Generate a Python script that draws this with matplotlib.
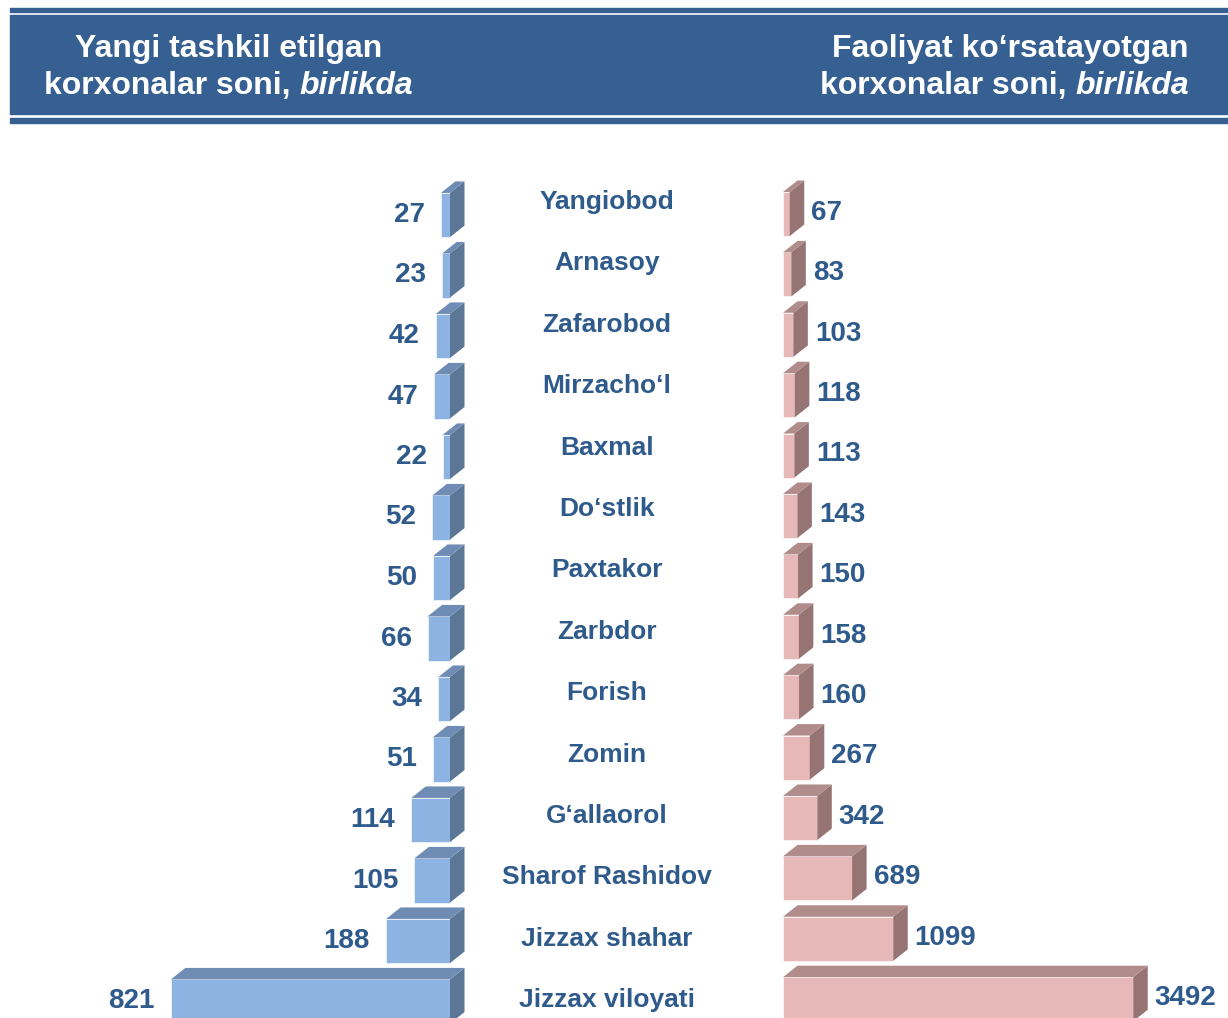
import matplotlib.pyplot as plt
from matplotlib.patches import Polygon, Rectangle

plt.rcParams['font.family'] = ['Liberation Sans', 'DejaVu Sans']

districts = [
    "Yangiobod", "Arnasoy", "Zafarobod", "Mirzacho‘l", "Baxmal", "Do‘stlik",
    "Paxtakor", "Zarbdor", "Forish", "Zomin", "G‘allaorol", "Sharof Rashidov",
    "Jizzax shahar", "Jizzax viloyati",
]
new_firms = [27, 23, 42, 47, 22, 52, 50, 66, 34, 51, 114, 105, 188, 821]
active_firms = [67, 83, 103, 118, 113, 143, 150, 158, 160, 267, 342, 689, 1099, 3492]

TEXT_COLOR = "#2f5a8c"
HEADER_COLOR = "#366092"
W, H = 1228, 1018
BAR_H = 0.73
DEPTH_Y = 0.19


def px_axes(fig, x0, x1):
    """ Full-height axes spanning pixel columns x0..x1 """
    ax = fig.add_axes([x0 / W, 0, (x1 - x0) / W, 1])
    ax.axis("off")
    return ax


def draw_bars(ax, values, depth_x, front, side, top, mirrored):
    for row, v in enumerate(values):
        y_top = row - BAR_H / 2
        y_bot = row + BAR_H / 2
        ax.add_patch(Rectangle((0, y_top), v, BAR_H, facecolor=front,
                               edgecolor="#ffffff", linewidth=0.4, zorder=2))
        if mirrored:
            # depth runs toward the zero line (to the right on screen)
            edge, sign = 0, -1
            top_pts = [(v, y_top), (0, y_top), (-depth_x, y_top - DEPTH_Y),
                       (v - depth_x, y_top - DEPTH_Y)]
        else:
            edge, sign = v, 1
            top_pts = [(0, y_top), (v, y_top), (v + depth_x, y_top - DEPTH_Y),
                       (depth_x, y_top - DEPTH_Y)]
        side_pts = [(edge, y_top), (edge + sign * depth_x, y_top - DEPTH_Y),
                    (edge + sign * depth_x, y_bot - DEPTH_Y), (edge, y_bot)]
        ax.add_patch(Polygon(side_pts, closed=True, facecolor=side,
                             edgecolor="none", zorder=2))
        ax.add_patch(Polygon(top_pts, closed=True, facecolor=top,
                             edgecolor="none", zorder=2))


fig = plt.figure(figsize=(W / 100, H / 100), dpi=100)

# header band with rules above and below
bg = fig.add_axes([0, 0, 1, 1])
bg.set_xlim(0, W)
bg.set_ylim(H, 0)
bg.axis("off")
bg.add_patch(Rectangle((10, 8), W - 10, 4, color=HEADER_COLOR))
bg.add_patch(Rectangle((10, 15), W - 10, 99, color=HEADER_COLOR))
bg.add_patch(Rectangle((10, 118), W - 10, 5, color=HEADER_COLOR))

hdr = dict(color="white", fontsize=23, fontweight="bold", va="center")
bg.text(229, 49, "Yangi tashkil etilgan", ha="center", **hdr)
t = bg.text(44, 86, "korxonalar soni, ", ha="left", **hdr)
bg.annotate("birlikda", xy=(1, 0.5), xycoords=t, ha="left", style="italic", **hdr)
bg.text(1189, 49, "Faoliyat ko‘rsatayotgan", ha="right", **hdr)
t = bg.text(1189, 86, "birlikda", ha="right", style="italic", **hdr)
bg.annotate("korxonalar soni, ", xy=(0, 0.5), xycoords=t, ha="right", **hdr)

# left panel: new firms, growing leftwards from the zero line
ax_l = px_axes(fig, 0, 480)
scale_l = 0.34  # pixels per unit
ax_l.set_xlim(450 / scale_l, (450 - 480) / scale_l)
ax_l.set_ylim((H - 215) / 60.5, -215 / 60.5)
draw_bars(ax_l, new_firms, 14.5 / scale_l, "#8db3e2", "#5c7696", "#6f8db4", True)
for row, v in enumerate(new_firms):
    ax_l.annotate(str(v), xy=(v, row), xytext=(-11.5, 0), textcoords="offset points",
                  ha="right", va="center", fontsize=20, fontweight="bold",
                  color=TEXT_COLOR)

# right panel: active firms
ax_r = px_axes(fig, 740, W)
scale_r = 0.1003
ax_r.set_xlim((740 - 783) / scale_r, (W - 783) / scale_r)
ax_r.set_ylim((H - 214) / 60.4, -214 / 60.4)
draw_bars(ax_r, active_firms, 14.5 / scale_r, "#e6b9b8", "#957473", "#b08c8b", False)
for row, v in enumerate(active_firms):
    ax_r.annotate(str(v), xy=(v + 14.5 / scale_r, row - 0.02), xytext=(5, 0),
                  textcoords="offset points", ha="left", va="center", fontsize=20,
                  fontweight="bold", color=TEXT_COLOR)

# district names in the middle column
ax_m = px_axes(fig, 477, 737)
ax_m.set_xlim(0, 1)
ax_m.set_ylim((H - 202) / 61.4, -202 / 61.4)
for row, name in enumerate(districts):
    ax_m.text(0.5, row, name, ha="center", va="center", fontsize=19,
              fontweight="bold", color=TEXT_COLOR)

fig.savefig("out.png", dpi=100)
